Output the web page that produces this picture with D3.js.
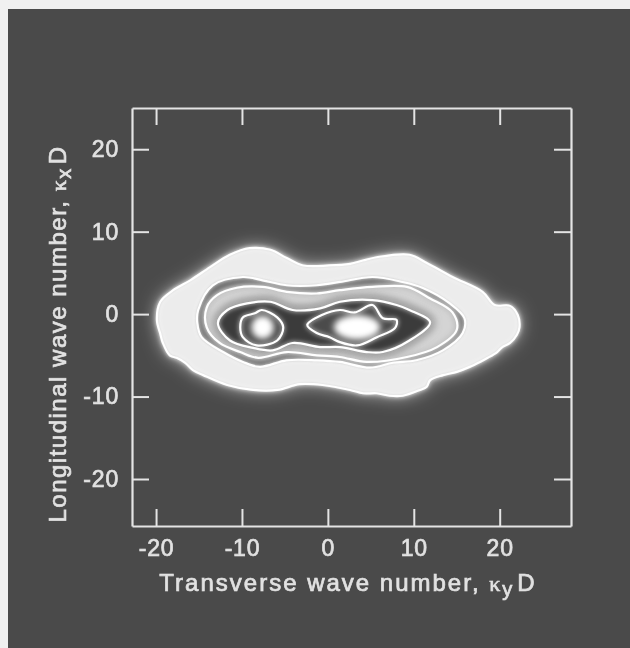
<!DOCTYPE html>
<html lang="en">
<head>
<meta charset="utf-8">
<title>Wave number spectrum</title>
<script src="https://cdn.jsdelivr.net/npm/d3@7"></script>
<style>
  html, body { margin: 0; padding: 0; background: #f0f0f0; overflow: hidden; }
  text { font-family: "Liberation Sans", sans-serif; fill: #e2e2e2; stroke: #e2e2e2; stroke-width: 0.7px; }
</style>
</head>
<body>
<script>
// Tick values shared by all four sides
var xTicks = [-20, -10, 0, 10, 20];
var yTicks = [-20, -10, 0, 10, 20];

// Contours, as [ky D, kx D]
var contourOuter = [[-19.9,-0.7],[-19.5,1.5],[-18.0,2.9],[-16.0,4.1],[-13.7,5.7],[-11.4,7.2],[-9.1,8.0],[-6.7,7.8],[-4.8,6.8],[-2.9,5.9],[0.2,5.9],[2.6,6.1],[4.1,6.5],[5.7,6.9],[9.5,7.2],[11.5,6.2],[14.5,4.5],[18.0,2.7],[19.4,1.1],[21.2,1.0],[22.1,-0.1],[22.3,-1.6],[22.0,-2.5],[21.2,-3.5],[20.3,-4.0],[19.7,-4.6],[18.6,-5.3],[17.7,-5.8],[16.5,-6.4],[15.0,-7.0],[13.4,-7.4],[11.9,-8.0],[11.5,-8.8],[10.7,-9.2],[8.7,-9.9],[7.2,-9.9],[5.7,-9.6],[4.1,-9.6],[2.6,-9.2],[-0.6,-8.6],[-3.3,-8.5],[-5.9,-9.2],[-8.7,-9.2],[-11.7,-8.6],[-14.5,-7.4],[-15.7,-6.8],[-16.6,-5.9],[-17.6,-5.3],[-18.4,-5.0],[-19.2,-3.5],[-19.5,-2.4]];
var contourSecond = [[-15.1,0.5],[-13.4,3.5],[-9.9,4.5],[-7.6,4.1],[-4.8,3.5],[-1.3,3.5],[1.4,3.9],[5.2,4.5],[8.7,3.9],[11.0,3.2],[14.2,1.3],[15.9,-0.5],[15.7,-2.3],[13.4,-4.4],[10.3,-5.6],[7.6,-5.9],[4.9,-6.5],[1.4,-5.8],[-1.3,-5.6],[-4.8,-5.6],[-7.9,-6.4],[-9.9,-5.8],[-12.2,-4.6],[-14.7,-2.8],[-15.2,-1.1]];
var contourThird = [[-14.1,0.8],[-12.9,2.3],[-10.6,3.2],[-7.6,3.3],[-4.8,2.7],[-1.3,2.5],[1.4,2.9],[5.2,3.3],[9.2,3.3],[11.9,1.9],[14.5,0.2],[15.0,-1.9],[12.7,-4.0],[9.2,-5.2],[4.5,-5.8],[1.4,-5.2],[-1.3,-5.0],[-4.8,-4.6],[-8.1,-5.3],[-10.2,-4.6],[-12.6,-3.5],[-14.1,-1.6]];
var contourFourth = [[-12.8,-1.1],[-11.7,0.5],[-9.4,1.3],[-6.7,1.5],[-4.1,0.5],[-0.9,0.7],[1.4,1.5],[5.2,1.7],[8.0,1.1],[9.5,0.5],[11.9,-1.0],[9.5,-3.2],[6.4,-4.6],[4.5,-4.6],[1.4,-4.0],[-0.9,-4.0],[-4.1,-3.5],[-6.4,-4.4],[-8.7,-4.1],[-11.4,-3.2]];
var islandLeft = [[-10.2,-1.6],[-9.9,-0.4],[-8.5,0.1],[-7.7,0.5],[-5.9,-0.4],[-5.2,-1.6],[-5.9,-3.2],[-8.3,-3.8],[-9.9,-2.8]];
var islandRight = [[-2.4,-1.3],[-0.7,-0.1],[1.4,0.5],[3.1,0.2],[5.2,1.1],[6.4,-0.5],[8.0,-0.7],[7.8,-1.7],[5.7,-2.8],[3.4,-3.8],[1.4,-3.4],[0.2,-2.8],[-1.3,-2.3]];
// Bright peaks: [ky D, kx D, half width, half height]
var peaks = [[-7.6,-1.6,1.3,1.4],[3.4,-1.6,2.7,1.5]];

var w = 630;
var h = 648;

var svg = d3.select("body").append("svg")
    .attr("width", w)
    .attr("height", h)
    .style("display", "block");

var defs = svg.append("defs");
function blur(id, s) {
    defs.append("filter").attr("id", id)
        .attr("x", "-30%").attr("y", "-50%").attr("width", "160%").attr("height", "200%")
        .append("feGaussianBlur").attr("stdDeviation", s);
}
blur("glow", 9);
blur("shade", 4.5);
blur("soft", 3);
blur("fine", 1.8);
blur("halo", 2);
blur("line", 0.7);
blur("print", 0.35);

// Photographic background, pale margin only at the top and left
svg.append("rect").attr("x", 8).attr("y", 9).attr("width", w - 8).attr("height", h - 9)
    .attr("fill", "#4a4a4a");

var x = d3.scaleLinear().domain([-22.8, 28.3]).range([132, 571]);
var y = d3.scaleLinear().domain([-25.7, 25]).range([526, 108]);

var line = d3.line()
    .x(function(d) { return x(d[0]); })
    .y(function(d) { return y(d[1]); })
    .curve(d3.curveCatmullRomClosed.alpha(0.5));

// Filled bands, outermost first
var plot = svg.append("g");
function band(data, fill, filter) {
    plot.append("path").attr("d", line(data)).attr("fill", fill).attr("filter", "url(#" + filter + ")");
}
band(contourOuter, "#c4c4c4", "glow");
band(contourOuter, "#ececec", "fine");
band(contourSecond, "#6c6c6c", "fine");
band(contourThird, "#d4d4d4", "soft");
// Darker shade creeping out of the inner contour
plot.append("path").attr("d", line(contourFourth))
    .attr("fill", "#707070")
    .attr("stroke", "#707070")
    .attr("stroke-width", 7)
    .attr("filter", "url(#shade)");
band(contourFourth, "#3a3a3a", "fine");
band(islandLeft, "#4c4c4c", "fine");
band(islandRight, "#4c4c4c", "fine");

var contours = [contourOuter, contourSecond, contourThird, contourFourth, islandLeft, islandRight];

// Soft bright rim around each contour
contours.forEach(function(c) {
    plot.append("path").attr("d", line(c))
        .attr("fill", "none")
        .attr("stroke", "#ffffff")
        .attr("stroke-width", 4)
        .attr("stroke-opacity", 0.5)
        .attr("filter", "url(#halo)");
});

// Contour lines
contours.forEach(function(c) {
    plot.append("path").attr("d", line(c))
        .attr("fill", "none")
        .attr("stroke", "#ffffff")
        .attr("stroke-width", 2.2)
        .attr("filter", "url(#line)");
});

// Peaks
plot.selectAll("ellipse").data(peaks).enter().append("ellipse")
    .attr("cx", function(d) { return x(d[0]); })
    .attr("cy", function(d) { return y(d[1]); })
    .attr("rx", function(d) { return x(d[2]) - x(0); })
    .attr("ry", function(d) { return y(0) - y(d[3]); })
    .attr("fill", "#ffffff")
    .attr("filter", "url(#soft)");

// Axes, ticks pointing inward on every side
var axes = svg.append("g").attr("filter", "url(#print)");
function styleAxis(g) {
    g.selectAll(".domain").attr("stroke", "#e4e4e4").attr("stroke-width", 2.2);
    g.selectAll(".tick line").attr("stroke", "#e4e4e4").attr("stroke-width", 2);
}
function plain(d) { return String(d); }
var bottom = axes.append("g").attr("transform", "translate(0,526)")
    .call(d3.axisBottom(x).tickValues(xTicks).tickSizeInner(-17).tickSizeOuter(0).tickPadding(14).tickFormat(plain));
var top_ = axes.append("g").attr("transform", "translate(0,108)")
    .call(d3.axisTop(x).tickValues(xTicks).tickSizeInner(-17).tickSizeOuter(0).tickFormat(""));
var left = axes.append("g").attr("transform", "translate(132,0)")
    .call(d3.axisLeft(y).tickValues(yTicks).tickSizeInner(-17).tickSizeOuter(0).tickPadding(13).tickFormat(plain));
var right = axes.append("g").attr("transform", "translate(571,0)")
    .call(d3.axisRight(y).tickValues(yTicks).tickSizeInner(-17).tickSizeOuter(0).tickFormat(""));
[bottom, top_, left, right].forEach(styleAxis);
[bottom, left].forEach(function(g) {
    g.selectAll("text")
        .style("font-family", "'Liberation Sans', sans-serif")
        .style("font-size", "23px")
        .style("letter-spacing", "0.8px")
        .style("fill", "#e2e2e2");
});

// Axis titles
function kappaTitle(sel, label, sub, spacing) {
    sel.attr("text-anchor", "middle")
        .style("font-size", "24px")
        .style("letter-spacing", spacing + "px")
        .attr("filter", "url(#print)");
    sel.append("tspan").text(label);
    sel.append("tspan").text("\u03ba").style("font-family", "'Liberation Serif', serif").style("font-size", "22px");
    sel.append("tspan").text(sub).attr("dy", 5).style("font-size", "20px");
    sel.append("tspan").text("D").attr("dy", -5).attr("dx", 3);
}
svg.append("text").attr("x", 348).attr("y", 591)
    .call(kappaTitle, "Transverse wave number, ", "y", 2);
svg.append("text").attr("transform", "translate(66,334) rotate(-90)")
    .call(kappaTitle, "Longitudinal wave number, ", "x", 1.5);
</script>
</body>
</html>
